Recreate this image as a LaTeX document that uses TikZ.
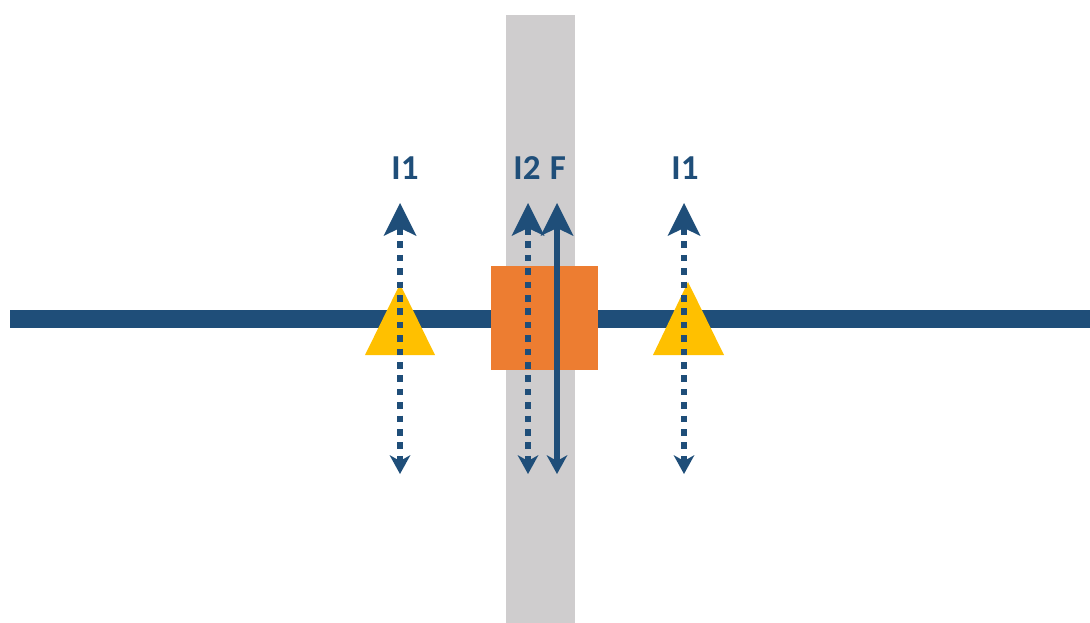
\documentclass[tikz,border=0pt]{standalone}
\usepackage{fontspec}
\setmainfont{Carlito}
\usetikzlibrary{arrows.meta}
\definecolor{navy}{HTML}{1F4E79}
\definecolor{wallgrey}{HTML}{CFCDCE}
\definecolor{boxorange}{HTML}{ED7D31}
\definecolor{gold}{HTML}{FFC000}
\tikzset{
  x=1pt,y=-1pt,
  twoway/.style={draw=navy,line width=6pt,
    {Stealth[length=33pt,width=33pt,inset=8pt,line width=0pt]}-{Stealth[length=19pt,width=21pt,inset=6pt,line width=0pt]}},
  impulse/.style={twoway,line width=6.5pt,dash pattern=on 6.5pt off 6.9pt},
  lab/.style={text=navy,font=\fontsize{35}{35}\selectfont\bfseries,inner sep=0pt,anchor=base},
  wedge/.style={fill=gold,draw=none}
}
\begin{document}
\begin{tikzpicture}
\useasboundingbox (0,0) rectangle (1090,623);
\fill[wallgrey] (506,15) rectangle (575,623);
\coordinate (barL) at (10,319);
\coordinate (barR) at (1090,319);
\draw[navy,line width=18pt] (barL) -- (barR);
\fill[boxorange] (491,266) rectangle (598,370);
\fill[wedge] (400,284) -- (435,355) -- (365,355) -- cycle;
\fill[wedge] (688,282) -- (724,355) -- (653,355) -- cycle;
\coordinate (a1t) at (400,203); \coordinate (a1b) at (400,474);
\coordinate (a2t) at (528,203); \coordinate (a2b) at (528,474);
\coordinate (a3t) at (557,203); \coordinate (a3b) at (557,474);
\coordinate (a4t) at (684,203); \coordinate (a4b) at (684,474);
\draw[impulse] (a1t) -- (a1b);
\draw[impulse] (a2t) -- (a2b);
\draw[twoway] (a3t) -- (a3b);
\draw[impulse] (a4t) -- (a4b);
\node[lab] (l1) at (405,179) {I1};
\node[lab] (l2) at (527,179) {I2};
\node[lab] (l3) at (558,179) {F};
\node[lab] (l4) at (685,179) {I1};
\end{tikzpicture}
\end{document}
